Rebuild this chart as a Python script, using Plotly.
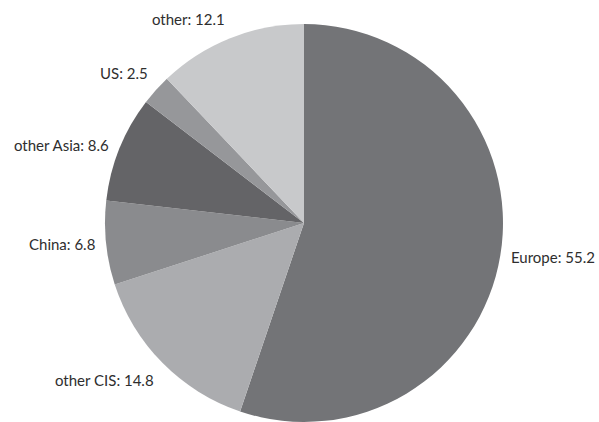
import math
import plotly.graph_objects as go

# Share by destination, percent
regions = ["Europe", "other CIS", "China", "other Asia", "US", "other"]
shares = [55.2, 14.8, 6.8, 8.6, 2.5, 12.1]
colors = ["#737477", "#abacaf", "#8a8b8e", "#646467", "#96979a", "#c8c9cb"]

# Figure / pie geometry (pixels)
W, H = 599, 422
TOP = 24
DOM_X = [0.015, 1.0]
plot_h = H - TOP
radius = min((DOM_X[1] - DOM_X[0]) * W, plot_h) / 2
cx = (DOM_X[0] + DOM_X[1]) / 2 * W
cy = TOP + plot_h / 2
LABEL_GAP = 10

fig = go.Figure(
    go.Pie(
        labels=regions,
        values=shares,
        sort=False,
        direction="clockwise",
        rotation=0,
        marker=dict(colors=colors, line=dict(width=0)),
        textinfo="none",
        showlegend=False,
        hoverinfo="label+value",
        domain=dict(x=DOM_X, y=[0.0, 1.0]),
    )
)

# Category labels just outside the rim, at each slice's mid-angle
total = sum(shares)
cum = 0.0
for name, val in zip(regions, shares):
    mid = (cum + val / 2) / total
    cum += val
    theta = math.radians(90 - 360 * mid)
    c, s = math.cos(theta), math.sin(theta)
    px = cx + (radius + LABEL_GAP) * c
    py = cy - (radius + LABEL_GAP) * s
    xanchor = "left" if c > 0.05 else ("right" if c < -0.05 else "center")
    if abs(s) < 0.5:
        yanchor = "middle"
    elif s > 0:
        yanchor = "bottom"
    else:
        yanchor = "top"
    fig.add_annotation(
        x=px / W,
        y=(H - py) / plot_h,
        xref="paper",
        yref="paper",
        text=f"{name}: {val}",
        showarrow=False,
        xanchor=xanchor,
        yanchor=yanchor,
        borderpad=0,
        font=dict(family="Lato, Open Sans, sans-serif", size=15, color="#2e2e2e"),
    )

fig.update_layout(
    width=W,
    height=H,
    margin=dict(l=0, r=0, t=TOP, b=0),
    paper_bgcolor="white",
    plot_bgcolor="white",
)

fig.write_html("out.html")
